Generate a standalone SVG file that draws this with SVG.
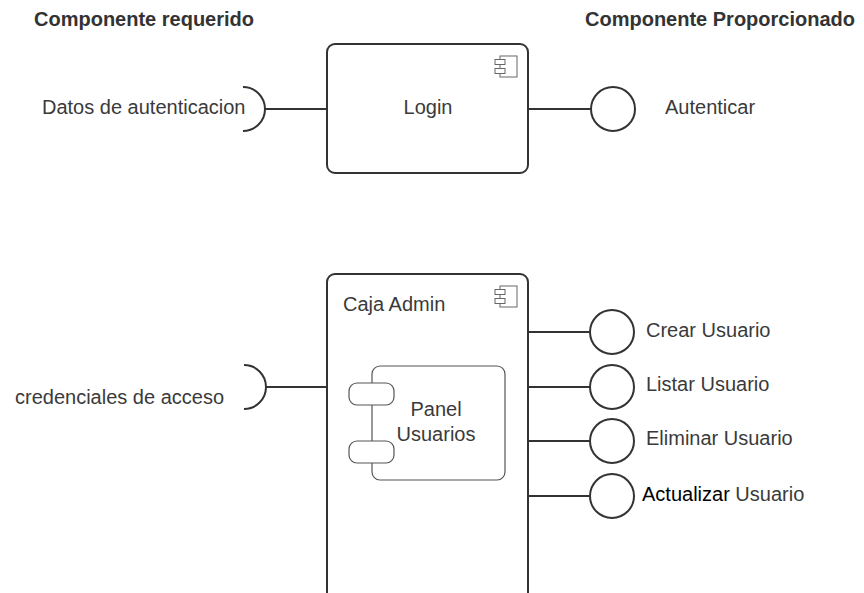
<svg xmlns="http://www.w3.org/2000/svg" width="864" height="593" viewBox="0 0 864 593">
<style>
.box{fill:#fff;stroke:#333;stroke-width:2}
.inner{fill:#fff;stroke:#555;stroke-width:1.2}
.icon{fill:#fff;stroke:#666;stroke-width:1}
.ln{fill:none;stroke:#333;stroke-width:2}
.t{font-family:"Liberation Sans",Arial,sans-serif;font-size:20px;fill:#3a3a3a}
.h{font-family:"Liberation Sans",Arial,sans-serif;font-size:20px;font-weight:bold;fill:#333}
</style>
<defs>
<g id="cicon">
<rect class="icon" x="0" y="0" width="17" height="21"/>
<rect class="icon" x="-5" y="3.5" width="10" height="5"/>
<rect class="icon" x="-5" y="12.5" width="10" height="5"/>
</g>
</defs>
<rect width="864" height="593" fill="#fff"/>
<g id="headers">
<text class="h" x="34" y="26">Componente requerido</text>
<text class="h" x="585" y="26">Componente Proporcionado</text>
</g>
<g id="connectors">
<path class="ln" d="M243,87 A22,22 0 0 1 243,131"/>
<line class="ln" x1="265" y1="109" x2="327" y2="109"/>
<line class="ln" x1="528" y1="109" x2="591" y2="109"/>
<circle class="ln" cx="613" cy="109" r="22"/>
<path class="ln" d="M244,365 A22,22 0 0 1 244,409"/>
<line class="ln" x1="266" y1="387" x2="327" y2="387"/>
<line class="ln" x1="528" y1="332" x2="590" y2="332"/>
<line class="ln" x1="528" y1="387" x2="590" y2="387"/>
<line class="ln" x1="528" y1="441" x2="590" y2="441"/>
<line class="ln" x1="528" y1="496" x2="590" y2="496"/>
<circle class="ln" cx="612" cy="332" r="22"/>
<circle class="ln" cx="612" cy="387" r="22"/>
<circle class="ln" cx="612" cy="441" r="22"/>
<circle class="ln" cx="612" cy="496" r="22"/>
</g>
<g id="login">
<rect class="box" x="327" y="44" width="201" height="129" rx="8"/>
<use href="#cicon" x="500" y="56"/>
<text class="t" x="428" y="114" text-anchor="middle">Login</text>
</g>
<g id="caja-admin">
<rect class="box" x="327" y="274" width="201" height="330" rx="8"/>
<use href="#cicon" x="500" y="286"/>
<text class="t" x="343" y="311">Caja Admin</text>
</g>
<g id="panel-usuarios">
<rect class="inner" x="372" y="366" width="133" height="114" rx="8"/>
<rect class="inner" x="349" y="383" width="45" height="22" rx="8"/>
<rect class="inner" x="349" y="441" width="45" height="22" rx="8"/>
<text class="t" x="436" y="416" text-anchor="middle">Panel</text>
<text class="t" x="436" y="441" text-anchor="middle">Usuarios</text>
</g>
<g id="labels">
<text class="t" x="42" y="114">Datos de autenticacion</text>
<text class="t" x="665" y="114">Autenticar</text>
<text class="t" x="15" y="404">credenciales de acceso</text>
<text class="t" x="646" y="337">Crear Usuario</text>
<text class="t" x="646" y="391">Listar Usuario</text>
<text class="t" x="646" y="445">Eliminar Usuario</text>
<text class="t" x="642" y="501"><tspan fill="#000">Actualizar</tspan> Usuario</text>
</g>
</svg>
